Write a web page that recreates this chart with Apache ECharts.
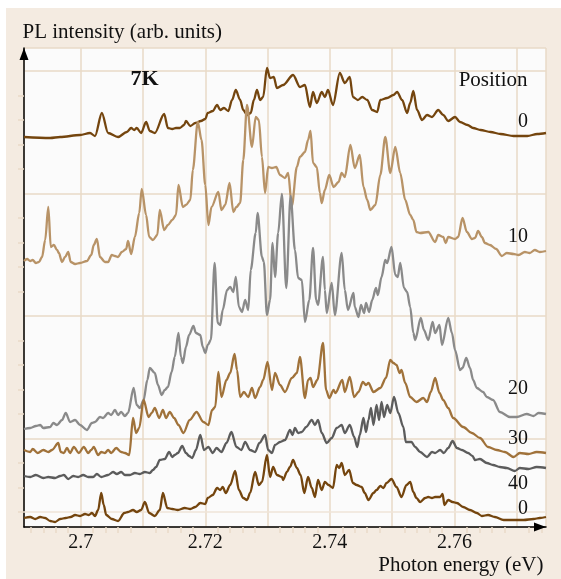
<!DOCTYPE html>
<html>
<head>
<meta charset="utf-8">
<script src="https://cdn.jsdelivr.net/npm/echarts@6/dist/echarts.min.js"></script>
<style>
  html, body { margin: 0; padding: 0; background: #ffffff; }
  #chart { width: 561px; height: 579px; }
</style>
</head>
<body>
<div id="chart"></div>
<script>
// Micro-PL spectra at 7 K, recorded at several positions along the sample.
// Each spectrum: [photon energy (eV), PL counts]; spectra are vertically offset.
const pos0Top = [[2.6909,424],[2.6951,423],[2.6967,424],[2.6999,426],[2.7015,428],[2.7023,425],[2.7034,448],[2.7044,428],[2.7060,424],[2.7074,429],[2.7081,433],[2.7086,431],[2.7090,433],[2.7097,428],[2.7105,439],[2.7111,430],[2.7119,428],[2.7134,447],[2.7140,433],[2.7147,432],[2.7153,433],[2.7159,433],[2.7166,436],[2.7169,440],[2.7176,435],[2.7184,438],[2.7193,440],[2.7200,442],[2.7204,448],[2.7212,450],[2.7219,456],[2.7224,451],[2.7230,453],[2.7237,450],[2.7243,461],[2.7249,471],[2.7256,461],[2.7261,451],[2.7267,446],[2.7273,448],[2.7278,461],[2.7283,471],[2.7288,461],[2.7293,464],[2.7299,493],[2.7304,483],[2.7310,484],[2.7315,473],[2.7325,476],[2.7341,486],[2.7352,474],[2.7360,476],[2.7368,454],[2.7373,469],[2.7379,458],[2.7387,469],[2.7392,464],[2.7397,471],[2.7405,456],[2.7416,488],[2.7424,478],[2.7432,484],[2.7437,464],[2.7445,461],[2.7452,464],[2.7460,461],[2.7468,451],[2.7476,449],[2.7481,461],[2.7492,463],[2.7502,466],[2.7508,469],[2.7516,461],[2.7524,448],[2.7529,458],[2.7534,470],[2.7540,451],[2.7548,441],[2.7556,446],[2.7564,444],[2.7574,451],[2.7582,446],[2.7590,440],[2.7601,444],[2.7609,439],[2.7621,436],[2.7630,433],[2.7642,431],[2.7658,429],[2.7674,427],[2.7695,425],[2.7717,425],[2.7733,427],[2.7747,428]];

const pos10 = [[2.6909,300],[2.6914,302],[2.6919,300],[2.6923,301],[2.6928,298],[2.6933,299],[2.6938,304],[2.6943,321],[2.6948,354],[2.6952,314],[2.6957,316],[2.6962,311],[2.6965,308],[2.6970,299],[2.6975,304],[2.6980,309],[2.6984,299],[2.6991,297],[2.6999,298],[2.7010,300],[2.7017,306],[2.7021,316],[2.7026,322],[2.7031,304],[2.7039,299],[2.7044,299],[2.7050,306],[2.7055,305],[2.7060,304],[2.7066,309],[2.7073,312],[2.7076,320],[2.7081,307],[2.7087,324],[2.7094,348],[2.7098,372],[2.7105,346],[2.7110,324],[2.7116,321],[2.7123,326],[2.7127,351],[2.7134,331],[2.7140,336],[2.7147,341],[2.7153,346],[2.7157,376],[2.7164,354],[2.7169,356],[2.7176,361],[2.7180,391],[2.7188,439],[2.7194,421],[2.7200,376],[2.7205,336],[2.7210,354],[2.7221,369],[2.7226,351],[2.7232,356],[2.7239,378],[2.7245,349],[2.7250,354],[2.7256,358],[2.7261,401],[2.7267,456],[2.7275,414],[2.7281,444],[2.7286,441],[2.7291,404],[2.7296,368],[2.7301,394],[2.7307,393],[2.7314,394],[2.7320,386],[2.7328,383],[2.7333,388],[2.7339,355],[2.7347,394],[2.7352,404],[2.7360,409],[2.7365,421],[2.7369,430],[2.7373,398],[2.7379,394],[2.7384,368],[2.7387,358],[2.7392,371],[2.7399,386],[2.7406,374],[2.7414,379],[2.7419,388],[2.7424,384],[2.7433,416],[2.7440,393],[2.7448,406],[2.7454,374],[2.7460,361],[2.7465,351],[2.7473,356],[2.7481,386],[2.7489,424],[2.7497,388],[2.7505,414],[2.7513,388],[2.7521,361],[2.7529,346],[2.7534,341],[2.7539,329],[2.7545,328],[2.7558,329],[2.7569,319],[2.7574,326],[2.7582,324],[2.7586,318],[2.7590,324],[2.7601,322],[2.7606,324],[2.7613,343],[2.7620,329],[2.7628,322],[2.7633,323],[2.7638,330],[2.7644,324],[2.7649,318],[2.7657,316],[2.7667,312],[2.7676,305],[2.7684,308],[2.7695,307],[2.7703,306],[2.7713,309],[2.7721,308],[2.7729,311],[2.7737,309],[2.7747,310]];

const pos20 = [[2.6909,132],[2.6919,133],[2.6928,135],[2.6935,136],[2.6940,133],[2.6951,134],[2.6956,138],[2.6962,136],[2.6970,141],[2.6976,148],[2.6983,139],[2.6991,141],[2.6999,136],[2.7010,131],[2.7018,138],[2.7023,139],[2.7031,144],[2.7036,143],[2.7044,148],[2.7049,146],[2.7055,151],[2.7060,146],[2.7065,149],[2.7071,145],[2.7076,148],[2.7085,173],[2.7090,156],[2.7095,153],[2.7101,161],[2.7107,181],[2.7111,193],[2.7119,188],[2.7124,176],[2.7130,166],[2.7135,171],[2.7140,174],[2.7146,189],[2.7151,204],[2.7157,228],[2.7161,204],[2.7164,198],[2.7169,214],[2.7174,226],[2.7181,235],[2.7185,228],[2.7192,226],[2.7196,214],[2.7200,208],[2.7204,216],[2.7209,221],[2.7215,298],[2.7220,238],[2.7224,236],[2.7228,251],[2.7235,271],[2.7240,274],[2.7245,269],[2.7249,284],[2.7254,254],[2.7259,249],[2.7264,261],[2.7269,251],[2.7273,291],[2.7281,328],[2.7284,348],[2.7291,304],[2.7294,299],[2.7299,246],[2.7304,261],[2.7308,318],[2.7312,284],[2.7317,328],[2.7323,367],[2.7330,273],[2.7337,365],[2.7344,311],[2.7349,283],[2.7355,281],[2.7360,239],[2.7367,261],[2.7373,313],[2.7378,261],[2.7381,256],[2.7389,304],[2.7392,271],[2.7395,248],[2.7403,278],[2.7408,246],[2.7419,308],[2.7424,271],[2.7429,251],[2.7438,268],[2.7440,254],[2.7446,244],[2.7450,256],[2.7455,248],[2.7458,258],[2.7463,249],[2.7468,261],[2.7474,273],[2.7477,266],[2.7483,284],[2.7489,301],[2.7492,298],[2.7499,314],[2.7505,286],[2.7509,284],[2.7513,298],[2.7519,273],[2.7524,269],[2.7529,254],[2.7534,228],[2.7537,221],[2.7546,243],[2.7551,231],[2.7558,221],[2.7565,239],[2.7569,228],[2.7576,236],[2.7580,216],[2.7590,243],[2.7596,228],[2.7601,211],[2.7609,191],[2.7613,193],[2.7619,203],[2.7625,193],[2.7630,181],[2.7636,173],[2.7646,169],[2.7652,164],[2.7662,161],[2.7673,149],[2.7689,144],[2.7700,144],[2.7716,147],[2.7727,145],[2.7735,148],[2.7747,147]];

const pos30 = [[2.6909,111],[2.6919,109],[2.6923,112],[2.6931,108],[2.6940,111],[2.6948,109],[2.6954,111],[2.6964,118],[2.6968,109],[2.6973,108],[2.6978,113],[2.6983,108],[2.6989,114],[2.6997,108],[2.7005,114],[2.7012,108],[2.7017,111],[2.7021,114],[2.7028,106],[2.7033,109],[2.7039,108],[2.7044,111],[2.7049,108],[2.7057,113],[2.7065,109],[2.7071,108],[2.7078,106],[2.7084,143],[2.7089,128],[2.7094,133],[2.7101,161],[2.7109,144],[2.7114,148],[2.7119,153],[2.7126,143],[2.7132,151],[2.7137,143],[2.7143,149],[2.7150,143],[2.7157,136],[2.7165,128],[2.7175,141],[2.7186,149],[2.7197,139],[2.7205,136],[2.7211,151],[2.7216,154],[2.7221,189],[2.7226,164],[2.7234,181],[2.7240,188],[2.7247,207],[2.7251,191],[2.7256,164],[2.7262,169],[2.7269,164],[2.7275,173],[2.7280,163],[2.7288,174],[2.7293,181],[2.7300,199],[2.7307,171],[2.7312,188],[2.7320,176],[2.7328,169],[2.7339,183],[2.7347,188],[2.7352,204],[2.7360,163],[2.7365,181],[2.7369,183],[2.7373,174],[2.7380,181],[2.7389,218],[2.7394,171],[2.7399,163],[2.7406,171],[2.7409,168],[2.7420,181],[2.7424,169],[2.7432,184],[2.7439,164],[2.7446,169],[2.7453,179],[2.7458,176],[2.7462,178],[2.7470,169],[2.7481,173],[2.7490,183],[2.7497,201],[2.7502,198],[2.7507,196],[2.7512,188],[2.7515,191],[2.7521,178],[2.7529,164],[2.7539,159],[2.7550,163],[2.7556,159],[2.7562,169],[2.7569,183],[2.7576,168],[2.7582,161],[2.7590,153],[2.7598,143],[2.7614,134],[2.7628,128],[2.7641,123],[2.7654,114],[2.7668,111],[2.7681,109],[2.7695,104],[2.7705,108],[2.7719,107],[2.7732,109],[2.7747,108]];

const pos40 = [[2.6909,85],[2.6919,84],[2.6928,86],[2.6940,83],[2.6948,84],[2.6959,83],[2.6967,85],[2.6973,86],[2.6980,82],[2.6988,85],[2.6996,84],[2.7004,86],[2.7012,84],[2.7020,84],[2.7026,87],[2.7033,84],[2.7044,86],[2.7052,89],[2.7058,87],[2.7065,89],[2.7071,86],[2.7079,86],[2.7087,88],[2.7095,87],[2.7103,89],[2.7111,88],[2.7116,91],[2.7121,94],[2.7127,101],[2.7135,102],[2.7142,109],[2.7147,104],[2.7151,106],[2.7156,108],[2.7163,115],[2.7169,108],[2.7174,105],[2.7179,103],[2.7185,111],[2.7192,126],[2.7198,111],[2.7205,114],[2.7212,108],[2.7218,113],[2.7226,109],[2.7234,118],[2.7242,129],[2.7250,114],[2.7258,111],[2.7264,119],[2.7272,111],[2.7280,109],[2.7287,118],[2.7296,126],[2.7301,111],[2.7307,108],[2.7312,116],[2.7320,119],[2.7328,121],[2.7336,131],[2.7340,126],[2.7344,133],[2.7349,128],[2.7355,129],[2.7362,134],[2.7371,141],[2.7376,136],[2.7381,141],[2.7387,128],[2.7395,118],[2.7403,123],[2.7411,133],[2.7419,136],[2.7424,128],[2.7432,136],[2.7439,124],[2.7444,114],[2.7448,126],[2.7454,143],[2.7458,129],[2.7462,141],[2.7466,153],[2.7470,136],[2.7475,156],[2.7479,141],[2.7483,159],[2.7487,144],[2.7492,156],[2.7497,148],[2.7503,164],[2.7510,148],[2.7518,134],[2.7522,119],[2.7531,119],[2.7537,114],[2.7545,109],[2.7556,104],[2.7564,109],[2.7569,108],[2.7577,111],[2.7583,108],[2.7590,113],[2.7597,120],[2.7604,113],[2.7612,111],[2.7622,108],[2.7629,105],[2.7633,101],[2.7641,102],[2.7652,98],[2.7662,96],[2.7673,94],[2.7684,93],[2.7697,90],[2.7705,93],[2.7719,92],[2.7732,94],[2.7747,93]];

const pos0Bottom = [[2.6909,43],[2.6919,44],[2.6927,42],[2.6935,44],[2.6943,43],[2.6951,40],[2.6959,39],[2.6967,42],[2.6976,43],[2.6984,44],[2.6991,46],[2.6999,45],[2.7007,47],[2.7013,46],[2.7018,48],[2.7023,45],[2.7028,51],[2.7033,68],[2.7037,56],[2.7041,46],[2.7050,42],[2.7060,40],[2.7070,48],[2.7076,49],[2.7084,51],[2.7090,49],[2.7097,51],[2.7103,59],[2.7110,48],[2.7119,45],[2.7127,51],[2.7132,68],[2.7139,53],[2.7147,52],[2.7156,51],[2.7167,53],[2.7176,52],[2.7184,54],[2.7192,58],[2.7200,57],[2.7204,63],[2.7212,66],[2.7219,73],[2.7224,71],[2.7228,74],[2.7233,68],[2.7240,76],[2.7248,90],[2.7254,71],[2.7261,63],[2.7267,61],[2.7272,68],[2.7280,89],[2.7286,76],[2.7291,79],[2.7299,106],[2.7304,84],[2.7309,94],[2.7315,86],[2.7323,84],[2.7325,81],[2.7331,89],[2.7336,94],[2.7341,101],[2.7347,93],[2.7353,86],[2.7359,68],[2.7365,84],[2.7371,73],[2.7376,64],[2.7381,81],[2.7387,71],[2.7392,79],[2.7398,76],[2.7405,73],[2.7411,96],[2.7415,93],[2.7419,98],[2.7424,86],[2.7431,91],[2.7437,78],[2.7443,76],[2.7451,74],[2.7456,68],[2.7462,61],[2.7470,68],[2.7475,71],[2.7481,75],[2.7486,73],[2.7491,78],[2.7499,82],[2.7507,74],[2.7515,64],[2.7523,76],[2.7529,79],[2.7534,69],[2.7539,63],[2.7545,59],[2.7553,63],[2.7558,64],[2.7564,63],[2.7569,64],[2.7577,64],[2.7581,67],[2.7584,56],[2.7590,61],[2.7597,59],[2.7604,58],[2.7614,54],[2.7625,51],[2.7636,48],[2.7644,45],[2.7654,46],[2.7665,44],[2.7679,41],[2.7695,41],[2.7711,41],[2.7727,42],[2.7737,43],[2.7747,44]];

const positionNames = ['0', '10', '20', '30', '40', '0'];
const energyRange = [2.6909, 2.7747];     // eV
const countRange = [34, 513];             // PL counts
const baselineCounts = 49;                // reference level of the lowest trace
const countsPerDivision = 122.5;          // counts per vertical grid division

// ---- presentation ----
const SERIF = '"Liberation Serif", "Times New Roman", serif';
const GRID_COLOR = '#e9dac7';
const traceColors = ['#74450e', '#b89367', '#8a8a8a', '#a0723a', '#5c5c5c', '#74450e'];
// where each position number is written, right-aligned next to its trace
const labelSpots = [[528, 122], [528, 236.5], [528, 388.5], [528, 439], [528, 484], [528, 509]];

const spectra = [pos0Top, pos10, pos20, pos30, pos40, pos0Bottom];
const toDivisions = s => s.map(p => [p[0], p[1] / countsPerDivision]);

const chart = echarts.init(document.getElementById('chart'), null, { renderer: 'canvas' });

const series = spectra.map((s, i) => ({
  type: 'line',
  name: 'Position ' + positionNames[i],
  data: toDivisions(s),
  showSymbol: false,
  smooth: 0.3,
  smoothMonotone: 'x',
  lineStyle: { color: traceColors[i], width: 2.3 },
  z: 3 + i,
  silent: true,
  animation: false
}));

// faint reference level under the lowest trace
series[5].markLine = {
  silent: true,
  symbol: 'none',
  label: { show: false },
  lineStyle: { color: '#efe5d8', width: 1.5, type: 'solid' },
  data: [{ yAxis: baselineCounts / countsPerDivision }],
  z: 1
};

const texts = [
  { type: 'text', x: 22.5, y: 32.5, style: { text: 'PL intensity (arb. units)', font: '21px ' + SERIF, fill: '#111', align: 'left', verticalAlign: 'middle' } },
  { type: 'text', x: 543.5, y: 565, style: { text: 'Photon energy (eV)', font: '21px ' + SERIF, fill: '#111', align: 'right', verticalAlign: 'middle' } },
  { type: 'text', x: 144.5, y: 79.5, style: { text: '7K', font: 'bold 22px ' + SERIF, fill: '#111', align: 'center', verticalAlign: 'middle' } },
  { type: 'text', x: 527.5, y: 80.5, style: { text: 'Position', font: '21px ' + SERIF, fill: '#111', align: 'right', verticalAlign: 'middle' } }
].concat(positionNames.map((n, i) => ({
  type: 'text', x: labelSpots[i][0], y: labelSpots[i][1],
  style: { text: n, font: '20px ' + SERIF, fill: '#111', align: 'right', verticalAlign: 'middle' }
})));

chart.setOption({
  backgroundColor: '#f4ebe1',
  animation: false,
  grid: {
    left: 24, right: 15, top: 48, bottom: 52,
    show: true, backgroundColor: '#fbfbfb', borderWidth: 0,
    containLabel: false, outerBoundsMode: 'none'
  },
  xAxis: {
    type: 'value',
    min: energyRange[0], max: energyRange[1],
    splitNumber: 8,
    axisLine: {
      show: true, onZero: false,
      lineStyle: { color: '#000', width: 1.5 },
      symbol: ['none', 'triangle'], symbolSize: [9, 12], symbolOffset: [0, -6]
    },
    axisTick: { show: false },
    minorTick: { show: true, splitNumber: 5, length: 6, lineStyle: { color: GRID_COLOR, width: 1.5 } },
    splitLine: { show: true, lineStyle: { color: GRID_COLOR, width: 1.5 } },
    axisLabel: {
      show: true, margin: 6, color: '#111',
      fontFamily: SERIF, fontSize: 20,
      showMinLabel: false, showMaxLabel: false,
      formatter: v => (Math.round(v * 1000) % 20 === 0 ? String(+v.toFixed(2)) : '')
    }
  },
  yAxis: {
    type: 'value',
    min: countRange[0] / countsPerDivision, max: countRange[1] / countsPerDivision,
    splitNumber: 4,
    axisLine: {
      show: true, onZero: false,
      lineStyle: { color: '#000', width: 1.5 },
      symbol: ['none', 'triangle'], symbolSize: [9, 12], symbolOffset: [0, -6]
    },
    axisTick: { show: false },
    minorTick: { show: true, splitNumber: 5, length: 6, lineStyle: { color: GRID_COLOR, width: 1.5 } },
    splitLine: { show: true, lineStyle: { color: GRID_COLOR, width: 1.5 } },
    axisLabel: { show: false }
  },
  graphic: [
    // white margin strips around the panel
    { type: 'rect', left: 0, top: 0, shape: { width: 561, height: 8 }, style: { fill: '#ffffff' }, z: 100 },
    { type: 'rect', left: 0, top: 0, shape: { width: 6, height: 579 }, style: { fill: '#ffffff' }, z: 100 }
  ].concat(texts.map(t => Object.assign({ z: 50 }, t))),
  series: series
});
</script>
</body>
</html>
